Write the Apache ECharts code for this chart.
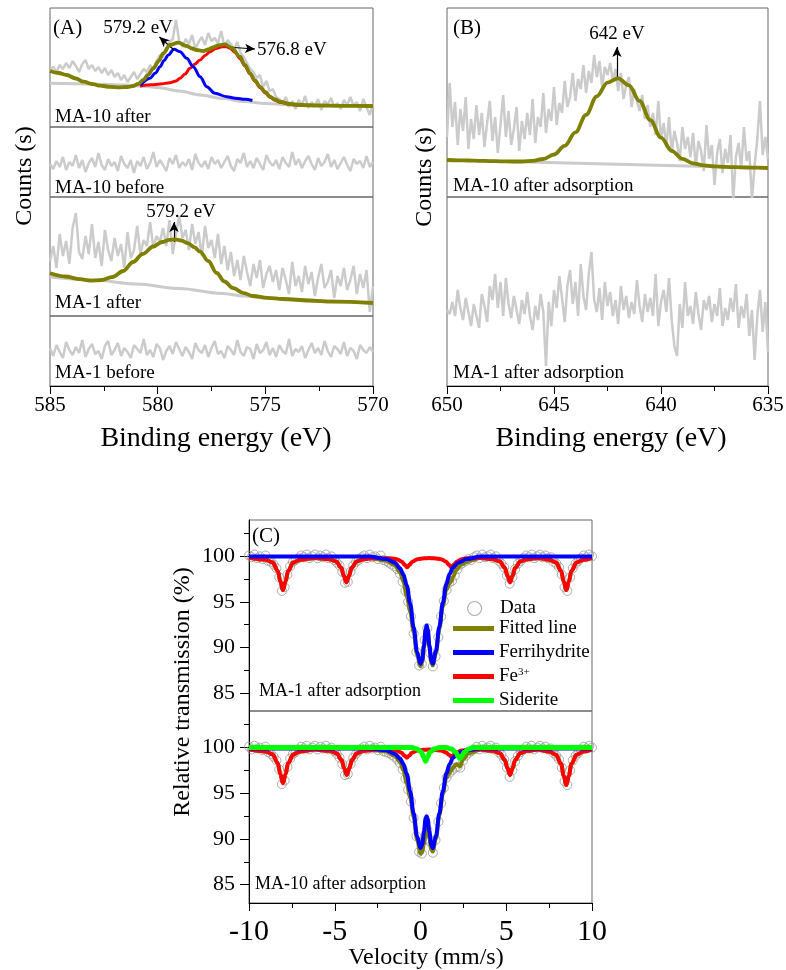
<!DOCTYPE html>
<html><head><meta charset="utf-8">
<script src="https://cdn.jsdelivr.net/npm/echarts@6/dist/echarts.min.js"></script>
<style>html,body{margin:0;padding:0;background:#fff}#c{width:786px;height:970px}</style>
</head><body><div id="c"></div>
<script>
// ---------------- DATA ----------------
// Panel A (XPS, Mn 2p region) sampling: 585 -> 570 eV, step 0.15
const aStart = 585, aStep = -0.15, aCount = 101;
const a1Noise = [57,60,55,62,58,64,59,66,61,55,63,67,58,62,56,60,54,59,52,57,50,54,47,52,45,50,55,48,53,58,55,62,58,66,72,70,78,85,88,107,86,80,88,83,92,78,85,90,82,94,86,89,84,96,80,87,83,78,85,74,70,64,58,55,49,52,40,46,36,38,30,28,24,30,20,26,18,27,22,31,19,25,21,28,17,26,23,29,20,24,18,27,22,30,21,25,16,28,20,12,24];
const a2Noise = [33,28,36,30,40,27,35,31,42,29,37,25,34,39,30,44,32,27,38,31,35,26,41,33,29,37,24,36,31,40,28,34,45,30,37,32,26,39,33,42,29,35,31,38,27,43,34,30,36,28,40,33,37,29,35,41,31,26,38,34,44,30,36,29,39,33,27,42,35,31,37,28,40,34,30,45,32,38,29,36,41,33,27,39,31,35,43,30,37,28,34,40,32,26,38,33,36,29,41,30,35];
const a3Noise = [55,70,48,82,60,75,52,88,103,64,57,80,62,92,58,74,50,86,66,55,78,60,72,48,84,58,66,90,62,76,70,94,68,80,74,88,70,96,62,82,100,78,86,66,92,72,84,60,90,68,76,58,82,52,70,46,64,40,56,36,60,44,30,52,38,56,28,42,50,34,46,26,48,36,22,54,30,40,24,50,32,44,20,38,52,28,34,46,18,40,30,48,26,36,50,22,42,28,46,4,30];
const a4Noise = [38,30,41,34,28,44,36,31,39,33,46,29,37,42,32,35,27,40,45,31,36,43,30,38,34,28,41,37,33,47,31,36,29,42,38,26,35,40,32,44,37,30,39,34,27,43,36,33,41,29,38,45,32,35,28,40,36,31,46,34,30,39,37,27,42,33,36,44,31,38,29,41,35,32,47,30,37,34,40,28,36,43,33,38,31,45,35,29,40,37,32,44,30,38,35,27,41,36,33,39,34];
// A1 fits (energy, counts)
const a1FitE = [585,584.6,584.23,583.8,583.45,583.0,582.68,582.2,581.75,581.4,581.13,580.9,580.67,580.45,580.2,579.95,579.74,579.43,579.04,578.65,578.4,578.19,577.88,577.65,577.42,577.15,576.87,576.55,576.18,575.95,575.71,575.48,575.25,575.0,574.78,574.55,574.32,573.85,573.39,572.5,571.5,570];
const a1FitV = [56,54,52,48.5,45.3,42.8,41.3,40.2,39.7,40,41,43.2,47,52,58.7,66,73.7,82,84.3,81,78.5,77,76,77.5,79.7,81.8,82.7,79,70.3,62,53.7,46.5,40.3,35,30.3,27.5,25.3,23,22,21.5,21.2,21];
const a1BlueE = [580.8,580.36,580.1,579.89,579.7,579.51,579.24,578.96,578.65,578.35,578.03,577.72,577.34,576.79,576.4,575.94,575.6];
const a1BlueV = [41.5,48.7,54,60.3,66.5,72,77.7,75.3,68.7,60.3,50.3,40.3,33.7,30.3,28.8,27.7,26.5];
const a1RedE = [580.82,580.3,579.89,579.43,579.15,578.96,578.73,578.5,578.27,578.03,577.8,577.57,577.3,577.01,576.8,576.64,576.4,576.18,575.95,575.71,575.48,575.25,575.0,574.78,574.55,574.32,573.85,573.39];
const a1RedV = [41,42.2,43,44.3,46,48.7,53,58.7,63,67,71.5,75.3,78.5,80.3,80.2,78.7,74.5,68.5,61,53,45.8,39.5,34,29.8,26.8,24.7,22.6,21.8];
const a1BaseE = [585,583,581.5,580.5,580,579,578,577,576,575,574,573,572,570];
const a1BaseV = [43.7,43,42,40.5,39.5,36,32,28.5,25.5,23.5,22.3,21.7,21.3,21];
// A3 fits
const a3FitE = [585,584.3,583.6,583.14,582.6,582.1,581.6,581.14,580.7,580.2,579.8,579.45,579.19,578.9,578.6,578.3,578.03,577.65,577.26,576.9,576.5,576.0,575.57,574.9,574.18,573,571.86,570];
const a3FitV = [42.7,39.5,36.8,35.3,36,39,45,54,62,69.5,74,76.2,76.7,75.5,72.8,68.8,64.3,55,43,34.5,28,22.8,20,18.2,17,15.5,14.3,13];
const a3BaseE = [585,583,581,579,577,576,575,574,572,570];
const a3BaseV = [39,36,32,27.5,22.5,20,18,17,15,13];

// Panel B (XPS, 650 -> 635 eV, step 0.125)
const bStart = 650, bStep = -0.125, bCount = 121;
const b1Noise = [60,114,70,95,52,88,66,100,48,78,58,92,62,84,50,74,96,56,80,44,72,102,60,86,52,68,90,46,76,58,84,62,98,54,80,70,104,64,88,76,110,72,94,84,116,90,100,124,96,118,108,132,104,126,114,142,120,136,110,130,122,134,116,128,106,124,98,112,120,90,108,96,86,102,78,92,70,84,62,96,58,74,50,80,44,66,54,36,70,48,60,40,64,30,56,46,26,72,38,52,12,44,58,24,48,34,62,-3,40,54,28,70,36,46,-3,32,58,96,42,60,38];
const b2Noise = [76,72,84,70,96,78,66,88,74,60,82,70,58,92,80,64,100,86,112,78,104,70,108,82,68,90,76,62,86,72,94,70,56,80,66,92,74,20,84,60,96,78,110,88,64,100,116,82,104,70,122,90,76,112,134,86,74,98,66,104,80,94,70,86,62,100,76,90,68,84,72,106,80,64,92,74,88,70,112,60,84,96,74,108,66,40,30,82,58,104,70,80,62,94,72,56,86,76,90,64,82,70,98,60,78,66,88,74,102,58,80,68,92,50,76,26,70,96,54,84,34];
const b1FitE = [650,649.5,649,648.5,648,647.5,647,646.5,646,645.5,645,644.5,644,643.5,643,642.5,642,641.5,641,640.5,640,639.5,639,638.5,638,637.5,637,636.5,636,635.5,635];
const b1FitV = [37,36.7,36.5,36.2,35.9,35.7,35.5,35.5,36.2,38,42.5,51.1,64.6,82.2,100.7,114.4,118.7,111.7,96,76.8,59.3,46.2,38.1,33.7,31.6,30.6,30.1,29.8,29.5,29.3,29];
const b1BaseE = [650,635];
const b1BaseV = [37,29];

// Panel C (Mossbauer) data points: -10 -> 10 mm/s, step 0.16
const mbStart = -10, mbStep = 0.16, mbCount = 126;
const mbUpper = [100.1,99.9,100.2,99.8,100.0,99.7,100.1,99.5,99.4,99.1,98.7,97.7,96.2,96.6,98.0,98.9,99.4,99.6,99.8,100.1,99.9,100.2,99.8,100.0,100.2,99.8,100.1,99.9,100.2,99.8,100.0,99.6,99.3,99.0,98.3,97.1,97.2,98.3,99.0,99.4,99.6,99.9,100.1,99.8,100.2,99.9,100.0,99.7,100.1,99.6,99.5,99.3,99.1,98.9,98.6,98.1,97.2,96.2,95.0,93.4,91.5,89.5,88.0,88.2,90.8,92.1,89.4,87.9,89.0,91.1,93.4,95.1,96.3,97.1,97.3,97.9,98.6,99.1,99.3,99.5,99.7,99.6,99.9,100.1,99.8,100.2,99.9,100.0,100.2,99.8,100.0,99.5,99.2,98.8,97.9,97.0,97.7,98.6,99.2,99.5,99.8,100.1,99.9,100.2,99.8,100.0,100.2,99.9,100.1,99.8,99.9,99.4,99.2,98.8,98.0,96.6,96.2,97.7,98.7,99.2,99.5,99.8,100.1,99.9,100.2,100.0];
const mbLower = [100.1,99.8,100.2,99.9,100.0,99.7,100.1,99.5,99.3,99.0,98.6,97.6,96.0,96.4,97.9,98.8,99.3,99.5,99.8,100.1,99.9,100.2,99.8,100.0,100.2,99.8,100.1,99.9,100.2,99.8,100.0,99.6,99.3,98.9,98.2,97.0,97.1,98.2,98.9,99.3,99.6,99.9,100.1,99.8,100.2,99.9,100.0,99.7,100.1,99.6,99.5,99.4,99.2,99.0,98.7,98.3,97.6,96.6,95.4,94.1,92.3,90.3,88.6,88.4,89.9,91.0,89.7,88.5,89.9,91.9,93.9,95.6,96.7,97.2,97.5,97.8,97.9,97.8,98.6,99.1,99.4,99.6,99.8,100.1,99.8,100.2,99.9,100.0,100.2,99.8,100.0,99.5,99.2,98.7,97.8,96.8,97.5,98.5,99.1,99.5,99.8,100.1,99.9,100.2,99.8,100.0,100.2,99.9,100.1,99.8,99.9,99.4,99.1,98.7,97.8,96.3,95.9,97.5,98.6,99.1,99.4,99.8,100.1,99.9,100.2,100.0];
// Fe3+ sextet fits
const redVelU = [-10,-9.02,-8.62,-8.32,-8.17,-8.02,-7.87,-7.72,-7.42,-7.02,-6.17,-5.32,-4.92,-4.62,-4.47,-4.32,-4.17,-4.02,-3.72,-3.32,-2.55,-1.78,-1.38,-1.08,-0.93,-0.78,-0.63,-0.48,-0.18,0.22,0.51,0.8,1.2,1.5,1.65,1.8,1.95,2.1,2.4,2.8,3.5,4.22,4.62,4.92,5.07,5.22,5.37,5.52,5.82,6.22,6.86,7.5,7.9,8.2,8.35,8.5,8.65,8.8,9.1,9.5,10];
const redValU = [99.85,99.64,99.32,98.40,97.24,96.30,97.24,98.40,99.32,99.64,99.82,99.69,99.45,98.74,97.87,97.15,97.87,98.74,99.45,99.69,99.82,99.79,99.69,99.42,99.08,98.80,99.08,99.42,99.69,99.79,99.82,99.79,99.69,99.42,99.08,98.80,99.08,99.42,99.69,99.79,99.82,99.69,99.45,98.74,97.87,97.15,97.87,98.74,99.45,99.69,99.82,99.64,99.32,98.40,97.24,96.30,97.24,98.40,99.32,99.64,99.85];
const redVelL = [-10,-9.02,-8.62,-8.32,-8.17,-8.02,-7.87,-7.72,-7.42,-7.02,-6.16,-5.3,-4.9,-4.6,-4.45,-4.3,-4.15,-4.0,-3.7,-3.3,-2.55,-1.8,-1.4,-1.1,-0.95,-0.8,-0.65,-0.5,-0.2,0.2,0.5,0.8,1.2,1.5,1.65,1.8,1.95,2.1,2.4,2.8,3.51,4.22,4.62,4.92,5.07,5.22,5.37,5.52,5.82,6.22,6.86,7.5,7.9,8.2,8.35,8.5,8.65,8.8,9.1,9.5,10];
const redValL = [99.8,99.58,99.25,98.28,97.08,96.1,97.08,98.28,99.25,99.58,99.78,99.64,99.39,98.65,97.74,97.0,97.74,98.65,99.39,99.64,99.78,99.75,99.67,99.43,99.14,98.9,99.14,99.43,99.67,99.75,99.78,99.75,99.68,99.47,99.21,99.0,99.21,99.47,99.68,99.75,99.78,99.64,99.39,98.65,97.74,97.0,97.74,98.65,99.39,99.64,99.78,99.57,99.22,98.2,96.93,95.9,96.93,98.2,99.22,99.57,99.8];
// Ferrihydrite doublet fits
const blueVel = [-10,-3,-2,-1.5,-1.2,-1.0,-0.8,-0.6,-0.4,-0.2,0,0.1,0.2,0.3,0.36,0.42,0.52,0.62,0.71,0.9,1.1,1.3,1.5,1.7,1.9,2.2,2.7,3.5,10];
const blueValU = [100,100,99.7,99.3,98.7,98.0,96.8,94.8,92.2,89.5,88.2,88.6,90.2,92.0,92.4,92.0,90.2,88.6,88.2,89.6,92.3,94.9,96.9,98.1,98.8,99.3,99.7,100,100];
const blueValL = [99.9,99.9,99.7,99.3,98.8,98.2,97.1,95.2,92.8,90.3,89.0,89.4,90.8,92.3,92.5,92.2,90.8,89.4,89.0,90.3,92.8,95.2,97.1,98.2,98.9,99.4,99.7,99.9,99.9];
// Fitted envelope
const oliveVelU = [-10,-9.02,-8.62,-8.32,-8.17,-8.02,-7.87,-7.72,-7.42,-7.02,-6.17,-5.32,-4.92,-4.62,-4.47,-4.32,-4.17,-4.02,-3.72,-3.32,-3.0,-2.0,-1.5,-1.2,-1.0,-0.8,-0.6,-0.4,-0.2,0,0.1,0.2,0.3,0.36,0.42,0.52,0.62,0.71,0.9,1.1,1.3,1.5,1.7,1.8,1.9,2.1,2.4,2.8,3.5,4.22,4.62,4.92,5.07,5.22,5.37,5.52,5.82,6.22,6.86,7.5,7.9,8.2,8.35,8.5,8.65,8.8,9.1,9.5,10];
const oliveValU = [99.85,99.64,99.32,98.40,97.24,96.30,97.24,98.40,99.32,99.64,99.82,99.69,99.45,98.74,97.87,97.15,97.87,98.74,99.45,99.69,99.82,99.51,99.04,98.28,97.26,95.61,93.96,91.73,89.19,87.95,88.37,89.97,91.8,92.2,91.8,90.0,88.4,88.0,89.38,92.03,94.54,96.32,97.05,97.25,97.75,98.57,99.14,99.49,99.85,99.69,99.45,98.74,97.87,97.15,97.87,98.74,99.45,99.69,99.82,99.64,99.32,98.40,97.24,96.30,97.24,98.40,99.32,99.64,99.85];
const oliveVelL = [-10,-9.02,-8.62,-8.32,-8.17,-8.02,-7.87,-7.72,-7.42,-7.02,-6.16,-5.3,-4.9,-4.6,-4.45,-4.3,-4.15,-4.0,-3.7,-3.3,-3.0,-2.0,-1.5,-1.2,-1.0,-0.8,-0.6,-0.4,-0.2,0,0.1,0.2,0.3,0.36,0.42,0.52,0.62,0.71,0.9,1.1,1.3,1.5,1.7,1.8,1.9,2.1,2.3,2.5,2.8,3.5,4.22,4.62,4.92,5.07,5.22,5.37,5.52,5.82,6.22,6.86,7.5,7.9,8.2,8.35,8.5,8.65,8.8,9.1,9.5,10];
const oliveValL = [99.8,99.58,99.25,98.28,97.08,96.1,97.08,98.28,99.25,99.58,99.78,99.64,99.39,98.65,97.74,97.0,97.74,98.65,99.39,99.64,99.78,99.56,99.1,98.45,97.55,96.1,94.55,92.45,89.95,88.4,88.55,89.46,90.66,91.06,91.06,90.06,88.92,88.62,90.04,92.61,94.94,96.67,97.26,97.5,97.81,98.17,97.94,98.76,99.4,99.78,99.64,99.39,98.65,97.74,97.0,97.74,98.65,99.39,99.64,99.78,99.57,99.22,98.2,96.93,95.9,96.93,98.2,99.22,99.57,99.8];
// Siderite doublet fit
const greenVel = [-10,-0.5,-0.2,0.05,0.18,0.3,0.42,0.55,0.8,1.1,1.5,1.8,2.05,2.18,2.3,2.42,2.55,2.8,3.1,10];
const greenVal = [100,100,99.85,99.5,99.0,98.5,99.0,99.5,99.85,100,100,99.85,99.5,99.1,98.8,99.1,99.5,99.85,100,100];

// Tick values
const cMajorTicks = [85,90,95,100];
const cMinorTicks = [87.5,92.5,97.5,102.5];

// ---------------- CHART ----------------
const F = "'Liberation Serif','Times New Roman',serif";
const seq = (s, st, n) => Array.from({length:n}, (_, i) => +(s + st*i).toFixed(4));
const pairs = (xs, ys) => xs.map((x, i) => [x, ys[i]]);
const xA = seq(aStart, aStep, aCount), xB = seq(bStart, bStep, bCount), xM = seq(mbStart, mbStep, mbCount);

const OLIVE = '#808000', BLUE = '#0000ff', RED = '#ff0000', GREEN = '#00ff00', GRAY = '#cbcbcb';

function ln(name, idx, data, color, width, z, smooth, extra) {
  return Object.assign({
    type:'line', name, xAxisIndex:idx, yAxisIndex:idx, data, symbol:'none', showSymbol:false,
    smooth: smooth ? 0.35 : false, smoothMonotone: smooth ? 'x' : undefined,
    lineStyle:{color, width}, itemStyle:{color}, color, z, silent:true, animation:false,
    emphasis:{disabled:true}
  }, extra || {});
}
const arrow = (data) => ({silent:true, symbol:['none','arrow'], symbolSize:[7,10], animation:false,
  lineStyle:{color:'#000', width:1.2, type:'solid'}, label:{show:false}, emphasis:{disabled:true}, data});

const grids = [
  {left:50, top:8, width:323, height:119},
  {left:50, top:127, width:323, height:70},
  {left:50, top:197, width:323, height:119},
  {left:50, top:316, width:323, height:70},
  {left:447, top:8, width:321, height:189},
  {left:447, top:197, width:321, height:189},
  {left:249, top:520, width:343, height:191},
  {left:249, top:711, width:343, height:192}
].map(g => Object.assign(g, {show:true, borderColor:'#666', borderWidth:1, backgroundColor:'transparent', containLabel:false, outerBoundsMode:'none'}));

function xAx(grid, min, max, inverse, show, fs, margin) {
  return {type:'value', gridIndex:grid, min, max, interval:5, inverse, show,
    axisLine:{show:true, onZero:false, lineStyle:{color:'#000', width:1}},
    axisTick:{show:true, length:8, inside:false, lineStyle:{color:'#000', width:1}},
    minorTick:{show:true, splitNumber:2, length:5, lineStyle:{color:'#000', width:1}},
    axisLabel:{show:true, fontSize:fs, fontFamily:F, color:'#000', margin, showMinLabel:true, showMaxLabel:true},
    splitLine:{show:false}, minorSplitLine:{show:false}};
}
const xAxes = [
  xAx(0,570,585,true,false,21,9), xAx(1,570,585,true,false,21,9), xAx(2,570,585,true,false,21,9), xAx(3,570,585,true,true,21,9),
  xAx(4,635,650,true,false,21,9), xAx(5,635,650,true,true,21,9),
  xAx(6,-10,10,false,false,30,14), xAx(7,-10,10,false,true,30,14)
];
const yHidden = (g, max) => ({type:'value', gridIndex:g, min:0, max, show:false, splitLine:{show:false}});
function yC(g) {
  return {type:'value', gridIndex:g, min:83, max:104, position:'left', offset:0,
    axisLine:{show:true, onZero:false, lineStyle:{color:'#000', width:1}},
    axisTick:{show:true, length:9, customValues:cMajorTicks, lineStyle:{color:'#000'}},
    axisLabel:{show:true, customValues:cMajorTicks, fontSize:22, fontFamily:F, color:'#000', margin:14},
    splitLine:{show:false}};
}
function yCminor(g) {
  return {type:'value', gridIndex:g, min:83, max:104, position:'left', offset:0,
    axisLine:{show:false, onZero:false},
    axisTick:{show:true, length:5, customValues:cMinorTicks, lineStyle:{color:'#000'}},
    axisLabel:{show:false}, splitLine:{show:false}};
}
const yAxes = [yHidden(0,119), yHidden(1,70), yHidden(2,119), yHidden(3,70), yHidden(4,189), yHidden(5,189), yC(6), yC(7), yCminor(6), yCminor(7)];

const series = [
  // A1
  ln('a1n', 0, pairs(xA, a1Noise), GRAY, 2.5, 1, false),
  ln('a1b', 0, pairs(a1BaseE, a1BaseV), GRAY, 3, 2, true),
  ln('a1r', 0, pairs(a1RedE, a1RedV), RED, 3, 3, true),
  ln('a1u', 0, pairs(a1BlueE, a1BlueV), BLUE, 3, 4, true),
  ln('a1f', 0, pairs(a1FitE, a1FitV), OLIVE, 3.8, 5, true, {markLine: arrow([
    [{coord:[579.24,77]},{coord:[579.92,90]}],
    [{coord:[576.78,80]},{coord:[575.48,78]}]
  ])}),
  // A2
  ln('a2n', 1, pairs(xA, a2Noise), GRAY, 2.5, 1, false),
  // A3
  ln('a3n', 2, pairs(xA, a3Noise), GRAY, 2.5, 1, false),
  ln('a3b', 2, pairs(a3BaseE, a3BaseV), GRAY, 3, 2, true),
  ln('a3f', 2, pairs(a3FitE, a3FitV), OLIVE, 3.8, 5, true, {markLine: arrow([
    [{coord:[579.24,74]},{coord:[579.24,94]}]
  ])}),
  // A4
  ln('a4n', 3, pairs(xA, a4Noise), GRAY, 2.5, 1, false),
  // B1
  ln('b1n', 4, pairs(xB, b1Noise), GRAY, 2.5, 1, false),
  ln('b1b', 4, pairs(b1BaseE, b1BaseV), GRAY, 3, 2, false),
  ln('b1f', 4, pairs(b1FitE, b1FitV), OLIVE, 3.8, 5, true, {markLine: arrow([
    [{coord:[642.06,117]},{coord:[642.06,150]}]
  ])}),
  // B2
  ln('b2n', 5, pairs(xB, b2Noise), GRAY, 2.5, 1, false),
  // C upper
  {type:'scatter', name:'Data', xAxisIndex:6, yAxisIndex:6, data:pairs(xM, mbUpper), symbol:'circle', symbolSize:9,
    itemStyle:{color:'rgba(255,255,255,0)', borderColor:'#9a9a9a', borderWidth:1}, z:1, silent:true, animation:false},
  ln('Fitted line', 6, pairs(oliveVelU, oliveValU), OLIVE, 4, 2, true),
  ln('Fe3+', 6, pairs(redVelU, redValU), RED, 4, 3, true),
  ln('Ferrihydrite', 6, pairs(blueVel, blueValU), BLUE, 4, 4, true),
  // C lower
  {type:'scatter', name:'Data', xAxisIndex:7, yAxisIndex:7, data:pairs(xM, mbLower), symbol:'circle', symbolSize:9,
    itemStyle:{color:'rgba(255,255,255,0)', borderColor:'#9a9a9a', borderWidth:1}, z:1, silent:true, animation:false},
  ln('Fitted line', 7, pairs(oliveVelL, oliveValL), OLIVE, 4, 2, true),
  ln('Fe3+', 7, pairs(redVelL, redValL), RED, 4, 3, true),
  ln('Ferrihydrite', 7, pairs(blueVel, blueValL), BLUE, 4, 4, true),
  ln('Siderite', 7, pairs(greenVel, greenVal), GREEN, 5, 5, true)
];

const T = (text, x, y, size, opt) => Object.assign({type:'text', x, y, silent:true, z:100,
  style:Object.assign({text, fill:'#000', font:`${size}px ${F}`, textAlign:'left', textVerticalAlign:'middle', verticalAlign:'middle'}, (opt||{}).style||{})},
  (opt && opt.rotation) ? {rotation:opt.rotation} : {});
const C = {style:{textAlign:'center'}};
const R = {rotation:Math.PI/2, style:{textAlign:'center'}};

const graphic = [
  T('(A)', 53, 28, 21), T('579.2 eV', 138, 28, 19, C), T('576.8 eV', 257, 50, 19),
  T('MA-10 after', 55, 117, 19), T('MA-10 before', 55, 188, 19), T('579.2 eV', 181, 212, 19, C),
  T('MA-1 after', 55, 303, 19), T('MA-1 before', 55, 373, 19),
  T('(B)', 453, 28, 21), T('642 eV', 617, 34, 19, C),
  T('MA-10 after adsorption', 453, 186, 19), T('MA-1 after adsorption', 453, 373, 19),
  T('Counts (s)', 25, 176, 24, R), T('Counts (s)', 425, 177, 24, R),
  T('Binding energy (eV)', 216, 439, 28, C), T('Binding energy (eV)', 611, 439, 28, C),
  T('(C)', 252, 536, 21), T('MA-1 after adsorption', 259, 691, 18), T('MA-10 after adsorption', 255, 884, 18),
  T('Relative transmission (%)', 183, 692, 24, R), T('Velocity (mm/s)', 426, 958, 24, C)
];

const legendText = {fontSize:19, fontFamily:F, color:'#000',
  rich:{b:{fontSize:19, fontFamily:F, color:'#000'}, sup:{fontSize:11, fontFamily:F, color:'#000', verticalAlign:'top'}}};
const legend = [
  {orient:'vertical', left:467, top:599, padding:0, itemWidth:41, itemHeight:14, itemGap:5, selectedMode:false,
    data:[{name:'Data', icon:'circle', itemStyle:{color:'rgba(255,255,255,0)', borderColor:'#9a9a9a', borderWidth:1.2}}],
    textStyle:legendText},
  {orient:'vertical', left:453, top:619, padding:0, itemWidth:41, itemHeight:5, itemGap:5, selectedMode:false,
    data:[{name:'Fitted line', icon:'rect'},{name:'Ferrihydrite', icon:'rect'},{name:'Fe3+', icon:'rect'},{name:'Siderite', icon:'rect'}],
    formatter:(n) => n === 'Fe3+' ? '{b|Fe}{sup|3+}' : n,
    textStyle:legendText}
];

const chart = echarts.init(document.getElementById('c'), null, {renderer:'canvas', width:786, height:970});
chart.setOption({backgroundColor:'#fff', animation:false, grid:grids, xAxis:xAxes, yAxis:yAxes, series, graphic, legend});
</script></body></html>
